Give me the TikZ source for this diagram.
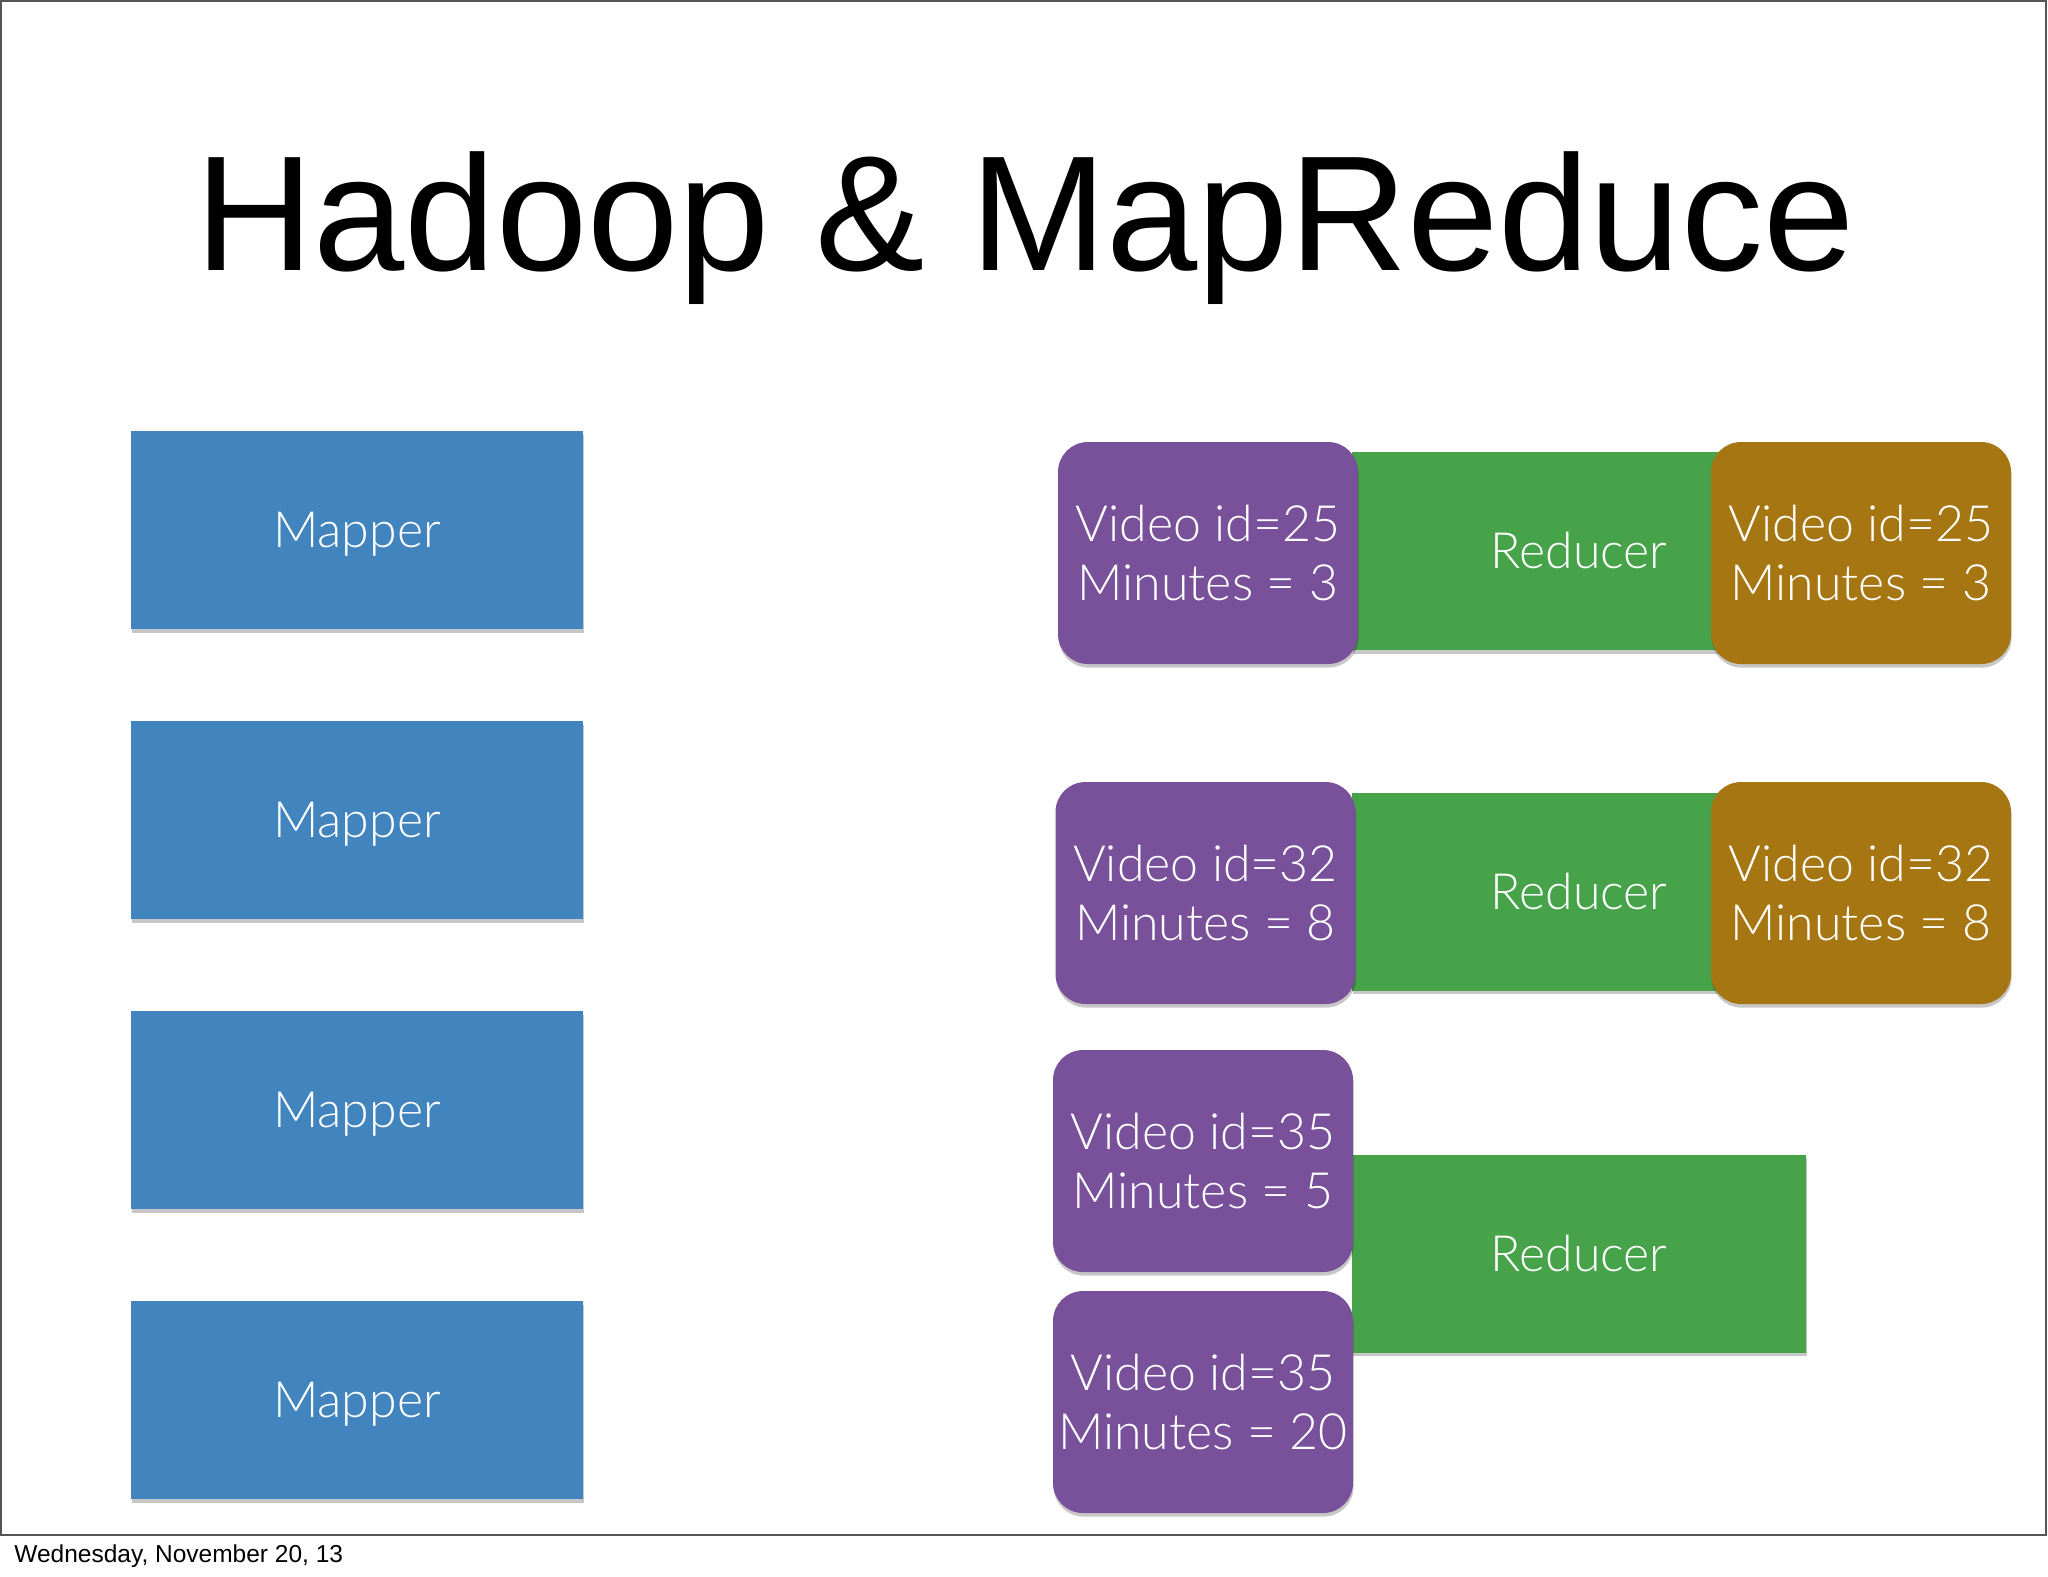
\documentclass[tikz,border=0pt]{standalone}
\usepackage{fontspec}
\setmainfont{Liberation Sans}
\IfFontExistsTF{Lato Light}{\newfontfamily\boxfont{Lato Light}\newcommand\boxsize{25}}{\newfontfamily\boxfont{Liberation Sans}\newcommand\boxsize{24}}
\usetikzlibrary{shadows}
\definecolor{mapblue}{RGB}{66,133,190}
\definecolor{kvpurple}{RGB}{121,81,155}
\definecolor{redgreen}{RGB}{70,163,74}
\definecolor{outbrown}{RGB}{165,118,18}
\definecolor{framegray}{RGB}{85,85,85}
\tikzset{
  shade/.style={drop shadow={shadow xshift=0.3pt, shadow yshift=-1.8pt, opacity=0.22, fill=black}},
  boxtext/.style={text=white, font=\boxfont\fontsize{\boxsize}{29.5}\selectfont, align=center, inner sep=0pt},
  oneline/.style={text height=17.5pt, text depth=0pt},
  mapperbox/.style={boxtext, oneline, fill=mapblue, minimum width=226pt, minimum height=99pt, shade},
  kvbox/.style={boxtext, fill=kvpurple, rounded corners=15pt, minimum width=150pt, minimum height=111pt, shade},
  outbox/.style={boxtext, fill=outbrown, rounded corners=15pt, minimum width=150pt, minimum height=111pt, shade},
  reducerbox/.style={boxtext, oneline, fill=redgreen, minimum width=227pt, minimum height=99pt, shade},
}
\begin{document}
\begin{tikzpicture}[x=0.5pt, y=-0.5pt]
\useasboundingbox (0,0) rectangle (2048,1576);
\fill[white] (0,0) rectangle (2048,1576);
\draw[framegray, line width=1.2pt] (1,1) rectangle (2046,1535);
% title
\node[anchor=base, inner sep=0pt, font=\fontsize{82}{90}\selectfont] (title) at (1025,270) {Hadoop \& MapReduce};
% mappers
\node[mapperbox] (m1) at (357,530) {Mapper};
\node[mapperbox] (m2) at (357,820) {Mapper};
\node[mapperbox] (m3) at (357,1110) {Mapper};
\node[mapperbox] (m4) at (357,1400) {Mapper};
% reducers (behind)
\node[reducerbox] (r1) at (1579,551) {Reducer};
\node[reducerbox] (r2) at (1579,891.5) {Reducer};
\node[reducerbox] (r3) at (1579,1253.5) {Reducer};
% key value boxes
\node[kvbox] (k1) at (1208,553) {Video id=25\\Minutes = 3};
\node[kvbox] (k2) at (1205.5,893) {Video id=32\\Minutes = 8};
\node[kvbox] (k3) at (1203,1161) {Video id=35\\Minutes = 5};
\node[kvbox] (k4) at (1203,1402) {Video id=35\\Minutes = 20};
% outputs
\node[outbox] (o1) at (1861,553) {Video id=25\\Minutes = 3};
\node[outbox] (o2) at (1861,893) {Video id=32\\Minutes = 8};
% footer
\node[anchor=base west, inner sep=0pt, font=\fontsize{12.25}{14}\selectfont] (footer) at (14,1562) {Wednesday, November 20, 13};
\end{tikzpicture}
\end{document}
